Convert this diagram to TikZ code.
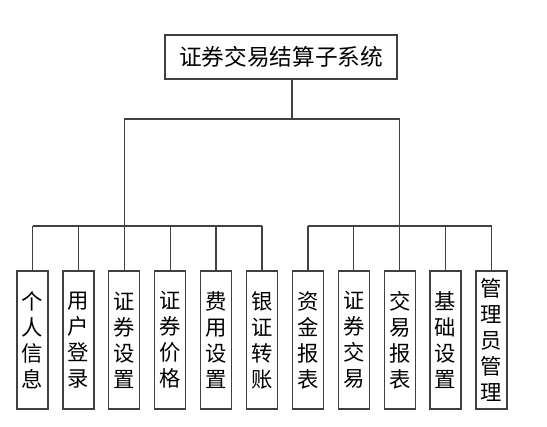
\documentclass[tikz,border=0pt]{standalone}
\usepackage{fontspec}
\newfontfamily\cjk{Noto Sans CJK SC}
\begin{document}
\begin{tikzpicture}[x=0.75pt,y=-0.75pt,
    line/.style={draw=black!75,line width=1pt},
    root/.style={line,fill=white,inner sep=0pt,minimum width=174pt,minimum height=33pt,
        font=\cjk\fontsize{17}{20}\selectfont},
    leaf/.style={line,fill=white,inner sep=0pt,minimum width=23.25pt,minimum height=103.5pt,
        align=center,font=\cjk\fontsize{16}{19.5}\selectfont}]
    \useasboundingbox (0,0) rectangle (547,427);
    \node[root] (top) at (281,57) {证券交易结算子系统};
    \foreach \name [count=\i] in {个\\人\\信\\息,用\\户\\登\\录,证\\券\\设\\置,证\\券\\价\\格,
        费\\用\\设\\置,银\\证\\转\\账,资\\金\\报\\表,证\\券\\交\\易,交\\易\\报\\表,
        基\\础\\设\\置,管\\理\\员\\管\\理}
        \node[leaf] (m\i) at ({32.5+45.9*(\i-1)},340) {\name};
    \coordinate (stem) at (292,119);
    \coordinate (bus) at (0,226);
    \draw[line] (top.south -| stem) -- (stem);
    \draw[line] (m3 |- stem) -- (m9 |- stem);
    \draw[line] (m3 |- stem) -- (m3 |- bus);
    \draw[line] (m9 |- stem) -- (m9 |- bus);
    \draw[line] (m1 |- bus) -- (m6 |- bus);
    \draw[line] (m7 |- bus) -- (m11 |- bus);
    \foreach \i in {1,...,11}
        \draw[line] (m\i |- bus) -- (m\i.north);
\end{tikzpicture}
\end{document}
